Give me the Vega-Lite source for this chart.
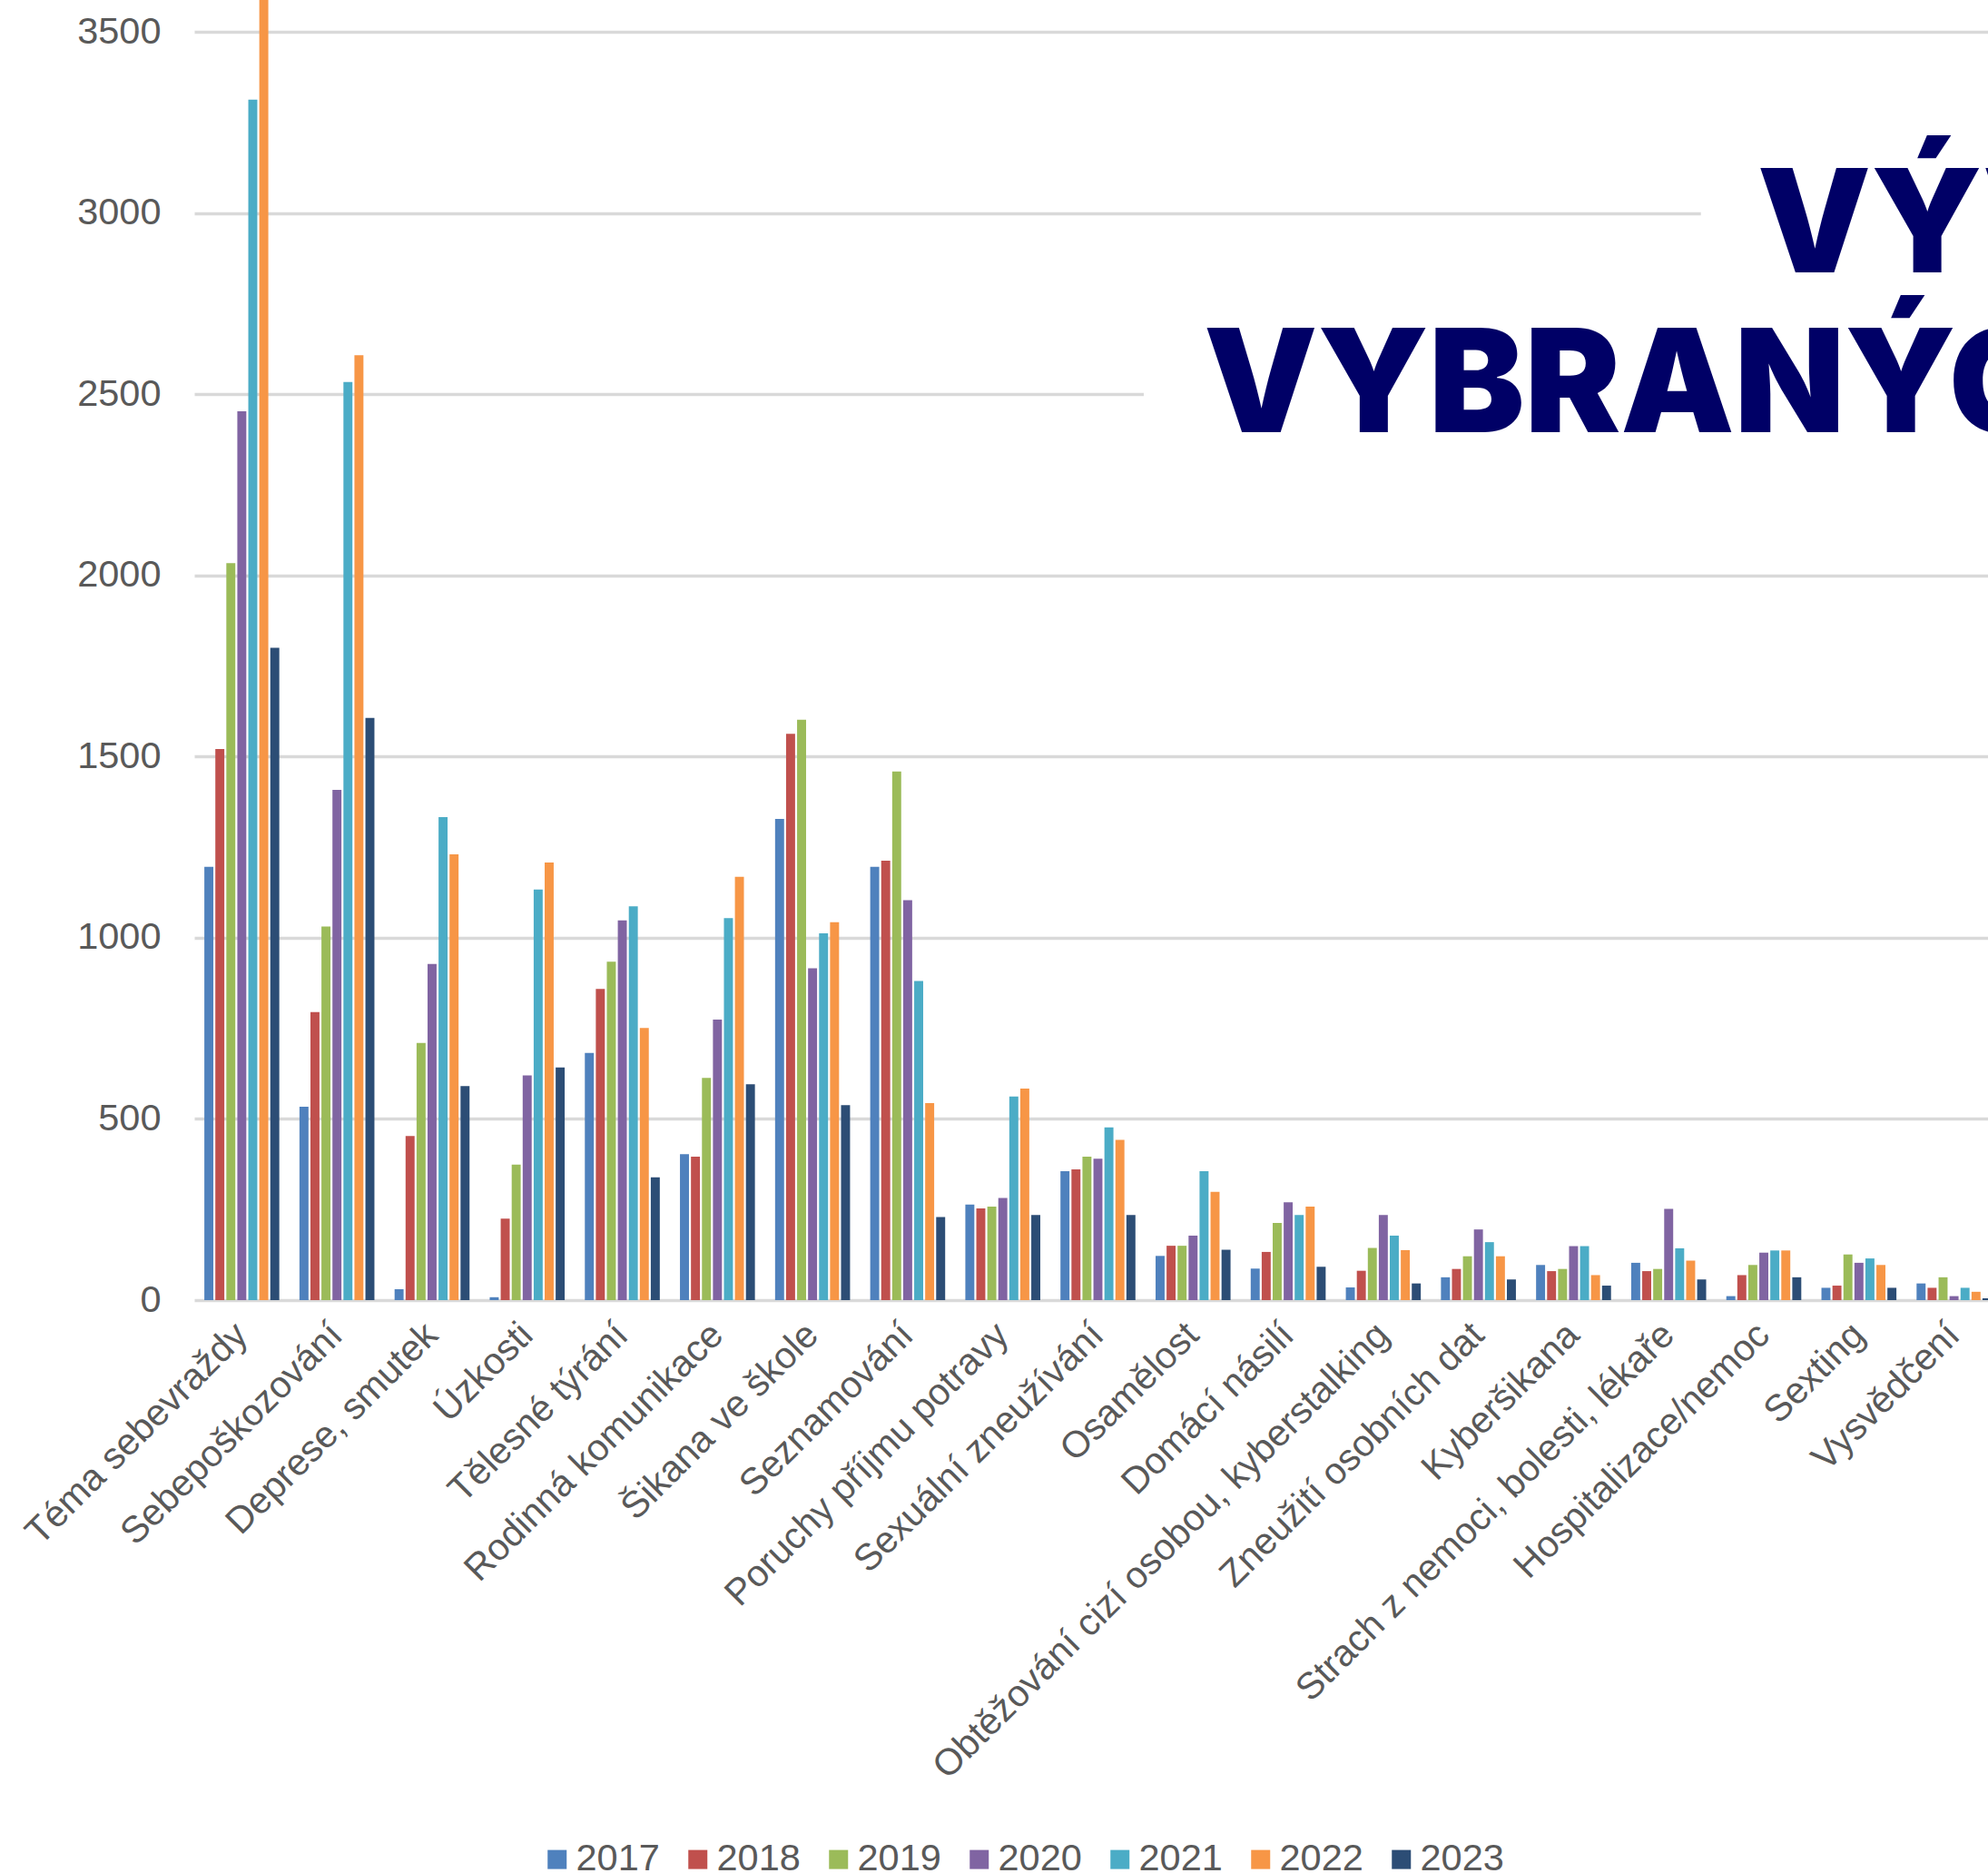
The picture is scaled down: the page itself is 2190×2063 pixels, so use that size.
{
  "$schema": "https://vega.github.io/schema/vega-lite/v6.json",
  "width": 1976,
  "height": 1432,
  "autosize": {"type": "none"},
  "padding": {"left": 214, "top": 0, "right": 0, "bottom": 631},
  "background": "white",
  "config": {"view": {"stroke": null}, "font": "Liberation Sans"},
  "datasets": {
    "bars": [
      {"cat": "Téma sebevraždy", "year": "2017", "value": 1196},
      {"cat": "Téma sebevraždy", "year": "2018", "value": 1521},
      {"cat": "Téma sebevraždy", "year": "2019", "value": 2034},
      {"cat": "Téma sebevraždy", "year": "2020", "value": 2453},
      {"cat": "Téma sebevraždy", "year": "2021", "value": 3313},
      {"cat": "Téma sebevraždy", "year": "2022", "value": 3700},
      {"cat": "Téma sebevraždy", "year": "2023", "value": 1800},
      {"cat": "Sebepoškozování", "year": "2017", "value": 534},
      {"cat": "Sebepoškozování", "year": "2018", "value": 795},
      {"cat": "Sebepoškozování", "year": "2019", "value": 1031},
      {"cat": "Sebepoškozování", "year": "2020", "value": 1408},
      {"cat": "Sebepoškozování", "year": "2021", "value": 2534},
      {"cat": "Sebepoškozování", "year": "2022", "value": 2608},
      {"cat": "Sebepoškozování", "year": "2023", "value": 1607},
      {"cat": "Deprese, smutek", "year": "2017", "value": 30},
      {"cat": "Deprese, smutek", "year": "2018", "value": 453},
      {"cat": "Deprese, smutek", "year": "2019", "value": 710},
      {"cat": "Deprese, smutek", "year": "2020", "value": 928},
      {"cat": "Deprese, smutek", "year": "2021", "value": 1333},
      {"cat": "Deprese, smutek", "year": "2022", "value": 1230},
      {"cat": "Deprese, smutek", "year": "2023", "value": 591},
      {"cat": "Úzkosti", "year": "2017", "value": 8},
      {"cat": "Úzkosti", "year": "2018", "value": 225},
      {"cat": "Úzkosti", "year": "2019", "value": 374},
      {"cat": "Úzkosti", "year": "2020", "value": 620},
      {"cat": "Úzkosti", "year": "2021", "value": 1133},
      {"cat": "Úzkosti", "year": "2022", "value": 1208},
      {"cat": "Úzkosti", "year": "2023", "value": 642},
      {"cat": "Tělesné týrání", "year": "2017", "value": 682},
      {"cat": "Tělesné týrání", "year": "2018", "value": 859},
      {"cat": "Tělesné týrání", "year": "2019", "value": 934},
      {"cat": "Tělesné týrání", "year": "2020", "value": 1048},
      {"cat": "Tělesné týrání", "year": "2021", "value": 1087},
      {"cat": "Tělesné týrání", "year": "2022", "value": 751},
      {"cat": "Tělesné týrání", "year": "2023", "value": 339},
      {"cat": "Rodinná komunikace", "year": "2017", "value": 403},
      {"cat": "Rodinná komunikace", "year": "2018", "value": 396},
      {"cat": "Rodinná komunikace", "year": "2019", "value": 613},
      {"cat": "Rodinná komunikace", "year": "2020", "value": 774},
      {"cat": "Rodinná komunikace", "year": "2021", "value": 1054},
      {"cat": "Rodinná komunikace", "year": "2022", "value": 1168},
      {"cat": "Rodinná komunikace", "year": "2023", "value": 596},
      {"cat": "Šikana ve škole", "year": "2017", "value": 1328},
      {"cat": "Šikana ve škole", "year": "2018", "value": 1563},
      {"cat": "Šikana ve škole", "year": "2019", "value": 1602},
      {"cat": "Šikana ve škole", "year": "2020", "value": 916},
      {"cat": "Šikana ve škole", "year": "2021", "value": 1012},
      {"cat": "Šikana ve škole", "year": "2022", "value": 1043},
      {"cat": "Šikana ve škole", "year": "2023", "value": 538},
      {"cat": "Seznamování", "year": "2017", "value": 1196},
      {"cat": "Seznamování", "year": "2018", "value": 1213},
      {"cat": "Seznamování", "year": "2019", "value": 1459},
      {"cat": "Seznamování", "year": "2020", "value": 1104},
      {"cat": "Seznamování", "year": "2021", "value": 881},
      {"cat": "Seznamování", "year": "2022", "value": 544},
      {"cat": "Seznamování", "year": "2023", "value": 229},
      {"cat": "Poruchy příjmu potravy", "year": "2017", "value": 264},
      {"cat": "Poruchy příjmu potravy", "year": "2018", "value": 253},
      {"cat": "Poruchy příjmu potravy", "year": "2019", "value": 258},
      {"cat": "Poruchy příjmu potravy", "year": "2020", "value": 282},
      {"cat": "Poruchy příjmu potravy", "year": "2021", "value": 562},
      {"cat": "Poruchy příjmu potravy", "year": "2022", "value": 584},
      {"cat": "Poruchy příjmu potravy", "year": "2023", "value": 235},
      {"cat": "Sexuální zneužívání", "year": "2017", "value": 356},
      {"cat": "Sexuální zneužívání", "year": "2018", "value": 361},
      {"cat": "Sexuální zneužívání", "year": "2019", "value": 396},
      {"cat": "Sexuální zneužívání", "year": "2020", "value": 390},
      {"cat": "Sexuální zneužívání", "year": "2021", "value": 477},
      {"cat": "Sexuální zneužívání", "year": "2022", "value": 442},
      {"cat": "Sexuální zneužívání", "year": "2023", "value": 235},
      {"cat": "Osamělost", "year": "2017", "value": 122},
      {"cat": "Osamělost", "year": "2018", "value": 150},
      {"cat": "Osamělost", "year": "2019", "value": 150},
      {"cat": "Osamělost", "year": "2020", "value": 178},
      {"cat": "Osamělost", "year": "2021", "value": 356},
      {"cat": "Osamělost", "year": "2022", "value": 299},
      {"cat": "Osamělost", "year": "2023", "value": 139},
      {"cat": "Domácí násilí", "year": "2017", "value": 87},
      {"cat": "Domácí násilí", "year": "2018", "value": 133},
      {"cat": "Domácí násilí", "year": "2019", "value": 213},
      {"cat": "Domácí násilí", "year": "2020", "value": 270},
      {"cat": "Domácí násilí", "year": "2021", "value": 235},
      {"cat": "Domácí násilí", "year": "2022", "value": 258},
      {"cat": "Domácí násilí", "year": "2023", "value": 92},
      {"cat": "Obtěžování cizí osobou, kyberstalking", "year": "2017", "value": 35},
      {"cat": "Obtěžování cizí osobou, kyberstalking", "year": "2018", "value": 81},
      {"cat": "Obtěžování cizí osobou, kyberstalking", "year": "2019", "value": 144},
      {"cat": "Obtěžování cizí osobou, kyberstalking", "year": "2020", "value": 235},
      {"cat": "Obtěžování cizí osobou, kyberstalking", "year": "2021", "value": 178},
      {"cat": "Obtěžování cizí osobou, kyberstalking", "year": "2022", "value": 138},
      {"cat": "Obtěžování cizí osobou, kyberstalking", "year": "2023", "value": 46},
      {"cat": "Zneužití osobních dat", "year": "2017", "value": 63},
      {"cat": "Zneužití osobních dat", "year": "2018", "value": 86},
      {"cat": "Zneužití osobních dat", "year": "2019", "value": 121},
      {"cat": "Zneužití osobních dat", "year": "2020", "value": 195},
      {"cat": "Zneužití osobních dat", "year": "2021", "value": 160},
      {"cat": "Zneužití osobních dat", "year": "2022", "value": 121},
      {"cat": "Zneužití osobních dat", "year": "2023", "value": 57},
      {"cat": "Kyberšikana", "year": "2017", "value": 97},
      {"cat": "Kyberšikana", "year": "2018", "value": 80},
      {"cat": "Kyberšikana", "year": "2019", "value": 86},
      {"cat": "Kyberšikana", "year": "2020", "value": 149},
      {"cat": "Kyberšikana", "year": "2021", "value": 149},
      {"cat": "Kyberšikana", "year": "2022", "value": 69},
      {"cat": "Kyberšikana", "year": "2023", "value": 40},
      {"cat": "Strach z nemoci, bolesti, lékaře", "year": "2017", "value": 103},
      {"cat": "Strach z nemoci, bolesti, lékaře", "year": "2018", "value": 80},
      {"cat": "Strach z nemoci, bolesti, lékaře", "year": "2019", "value": 86},
      {"cat": "Strach z nemoci, bolesti, lékaře", "year": "2020", "value": 252},
      {"cat": "Strach z nemoci, bolesti, lékaře", "year": "2021", "value": 143},
      {"cat": "Strach z nemoci, bolesti, lékaře", "year": "2022", "value": 109},
      {"cat": "Strach z nemoci, bolesti, lékaře", "year": "2023", "value": 57},
      {"cat": "Hospitalizace/nemoc", "year": "2017", "value": 11},
      {"cat": "Hospitalizace/nemoc", "year": "2018", "value": 69},
      {"cat": "Hospitalizace/nemoc", "year": "2019", "value": 97},
      {"cat": "Hospitalizace/nemoc", "year": "2020", "value": 131},
      {"cat": "Hospitalizace/nemoc", "year": "2021", "value": 137},
      {"cat": "Hospitalizace/nemoc", "year": "2022", "value": 137},
      {"cat": "Hospitalizace/nemoc", "year": "2023", "value": 63},
      {"cat": "Sexting", "year": "2017", "value": 34},
      {"cat": "Sexting", "year": "2018", "value": 40},
      {"cat": "Sexting", "year": "2019", "value": 126},
      {"cat": "Sexting", "year": "2020", "value": 103},
      {"cat": "Sexting", "year": "2021", "value": 115},
      {"cat": "Sexting", "year": "2022", "value": 97},
      {"cat": "Sexting", "year": "2023", "value": 34},
      {"cat": "Vysvědčení", "year": "2017", "value": 46},
      {"cat": "Vysvědčení", "year": "2018", "value": 34},
      {"cat": "Vysvědčení", "year": "2019", "value": 63},
      {"cat": "Vysvědčení", "year": "2020", "value": 11},
      {"cat": "Vysvědčení", "year": "2021", "value": 34},
      {"cat": "Vysvědčení", "year": "2022", "value": 23},
      {"cat": "Vysvědčení", "year": "2023", "value": 5}
    ],
    "title1": [{"text": "VÝVOJ"}],
    "title2": [{"text": "VYBRANÝCH TÉMAT"}]
  },
  "layer": [
    {
      "data": {"name": "bars"},
      "mark": {"type": "bar", "clip": true},
      "encoding": {
        "x": {
          "field": "cat", "type": "nominal", "sort": null,
          "scale": {"range": [0, 1991], "paddingInner": 0.212, "paddingOuter": 0.106},
          "axis": {
            "title": null, "labelAngle": -45, "labelAlign": "right", "labelBaseline": "middle",
            "labelPadding": 32, "labelFontSize": 41, "labelColor": "#595959", "labelFont": "Liberation Sans",
            "ticks": false, "domain": false, "grid": false, "labelOverlap": false, "labelLimit": 2000, "labelBound": false
          }
        },
        "xOffset": {"field": "year", "type": "nominal", "scale": {"paddingInner": 0.18, "paddingOuter": 0}},
        "y": {
          "field": "value", "type": "quantitative",
          "scale": {"domain": [0, 3588], "nice": false},
          "axis": {
            "title": null, "values": [0, 500, 1000, 1500, 2000, 2500, 3000, 3500], "format": "d",
            "domain": false, "ticks": false, "tickSize": 0, "labelPadding": 37,
            "labelFontSize": 41.5, "labelColor": "#595959", "labelFont": "Liberation Sans",
            "gridColor": "#D9D9D9", "gridWidth": 3.5
          }
        },
        "color": {
          "field": "year", "type": "nominal",
          "scale": {"domain": ["2017", "2018", "2019", "2020", "2021", "2022", "2023"],
                    "range": ["#4F81BD", "#C0504D", "#9BBB59", "#8064A2", "#4BACC6", "#F79646", "#2C4D75"]},
          "legend": {
            "title": null, "orient": "none", "legendX": 379, "legendY": 2027, "direction": "horizontal",
            "symbolType": "square", "symbolSize": 441, "symbolStrokeWidth": 0, "labelOffset": 0,
            "columnPadding": 21, "labelFontSize": 41.5, "labelColor": "#595959", "labelFont": "Liberation Sans",
            "padding": 0
          }
        }
      }
    },
    {
      "data": {"name": "title1"},
      "mark": {"type": "rect", "fill": "white", "xOffset": -28, "x2Offset": 400},
      "encoding": {
        "x": {"datum": "Hospitalizace/nemoc", "type": "nominal", "bandPosition": 0},
        "x2": {"datum": "Vysvědčení"},
        "y": {"datum": 3274, "type": "quantitative"},
        "y2": {"datum": 2748}
      }
    },
    {
      "data": {"name": "title2"},
      "mark": {"type": "rect", "fill": "white", "xOffset": -13, "x2Offset": 400},
      "encoding": {
        "x": {"datum": "Osamělost", "type": "nominal", "bandPosition": 0},
        "x2": {"datum": "Vysvědčení"},
        "y": {"datum": 2748, "type": "quantitative"},
        "y2": {"datum": 2260}
      }
    },
    {
      "data": {"name": "title1"},
      "mark": {"type": "text", "align": "left", "baseline": "alphabetic", "font": "Inter", "fontWeight": 900, "fontSize": 158, "fill": "#000066", "dx": 34},
      "encoding": {
        "x": {"datum": "Hospitalizace/nemoc", "type": "nominal", "bandPosition": 0},
        "y": {"datum": 2836, "type": "quantitative"},
        "text": {"field": "text"}
      }
    },
    {
      "data": {"name": "title2"},
      "mark": {"type": "text", "align": "left", "baseline": "alphabetic", "font": "Inter", "fontWeight": 900, "fontSize": 158, "fill": "#000066", "dx": 53},
      "encoding": {
        "x": {"datum": "Osamělost", "type": "nominal", "bandPosition": 0},
        "y": {"datum": 2395, "type": "quantitative"},
        "text": {"field": "text"}
      }
    }
  ]
}
